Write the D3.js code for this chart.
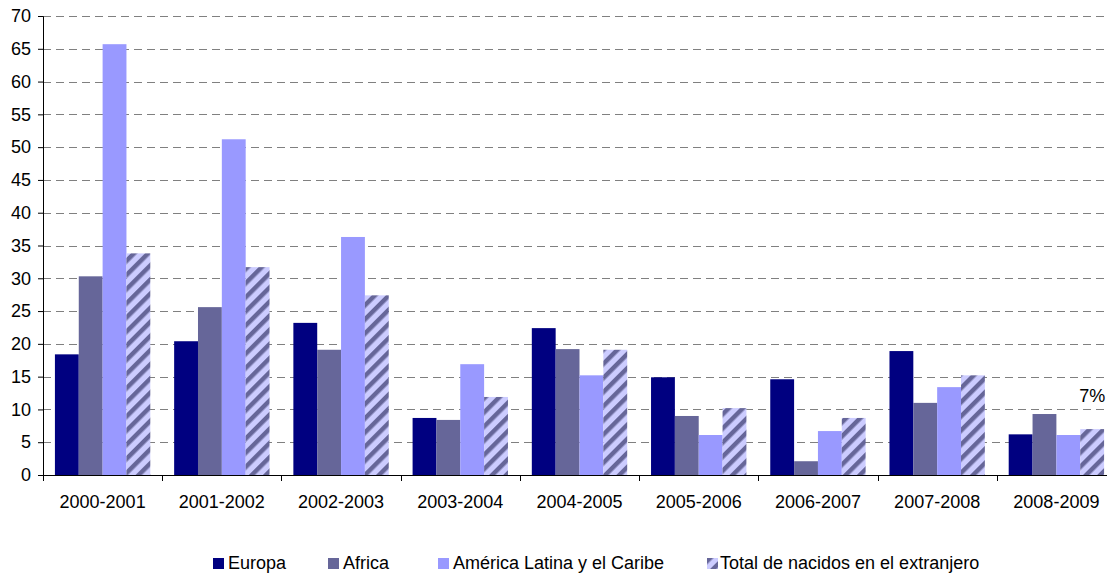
<!DOCTYPE html>
<html>
<head>
<meta charset="utf-8">
<script src="https://cdn.jsdelivr.net/npm/d3@7"></script>
<style>
  body { margin: 0; background: #fff; }
  svg { font-family: "Liberation Sans", Arial, sans-serif; }
</style>
</head>
<body>
<div id="wrapper"></div>
<script>
const periods = ["2000-2001", "2001-2002", "2002-2003", "2003-2004", "2004-2005",
    "2005-2006", "2006-2007", "2007-2008", "2008-2009"]
const seriesNames = ["Europa", "Africa", "América Latina y el Caribe", "Total de nacidos en el extranjero"]

const europa = [18.4, 20.4, 23.2, 8.7, 22.4, 14.9, 14.6, 18.9, 6.2]
const africa = [30.3, 25.6, 19.1, 8.4, 19.2, 9.0, 2.1, 11.0, 9.3]
const americaLatina = [65.7, 51.2, 36.3, 16.9, 15.2, 6.1, 6.7, 13.4, 6.1]
const totalExtranjero = [33.8, 31.7, 27.4, 11.9, 19.1, 10.2, 8.7, 15.2, 7.0]

const yTicks = d3.range(0, 71, 5)
const lastLabel = "7%"

const seriesValues = [europa, africa, americaLatina, totalExtranjero]
const colors = ["#000080", "#666699", "#9999ff", "url(#hatch)"]

let dimensions = {
    width: 1107,
    height: 576,
    margin: { top: 16, left: 43 },
    boundedWidth: 1073,
    boundedHeight: 459,
}

const svg = d3.select("#wrapper")
    .append("svg")
    .attr("width", dimensions.width)
    .attr("height", dimensions.height)

const pattern = svg.append("defs")
    .append("pattern")
    .attr("id", "hatch")
    .attr("patternUnits", "userSpaceOnUse")
    .attr("width", 10)
    .attr("height", 10)
    .attr("patternTransform", "rotate(45)")
pattern.append("rect").attr("width", 10).attr("height", 10).attr("fill", "#ccccff")
pattern.append("rect").attr("x", 0).attr("width", 4.5).attr("height", 10).attr("fill", "#666699")

const bounds = svg.append("g")
    .attr("transform", `translate(${dimensions.margin.left},${dimensions.margin.top})`)

const xScale = d3.scaleBand()
    .domain(periods)
    .range([0, dimensions.boundedWidth])
    .paddingInner(0.2)
    .paddingOuter(0.1)

const xSub = d3.scaleBand()
    .domain(d3.range(seriesNames.length))
    .range([0, xScale.bandwidth()])

const yScale = d3.scaleLinear()
    .domain([0, 70])
    .range([dimensions.boundedHeight, 0])

// grid lines
bounds.append("g")
    .selectAll("line")
    .data(yTicks.filter(d => d > 0))
    .join("line")
    .attr("x1", 0)
    .attr("x2", dimensions.boundedWidth)
    .attr("y1", d => Math.round(yScale(d)) + 0.5)
    .attr("y2", d => Math.round(yScale(d)) + 0.5)
    .attr("stroke", "#808080")
    .attr("stroke-dasharray", "8,5")

// bars
const groups = bounds.append("g")
    .selectAll("g")
    .data(seriesValues)
    .join("g")
    .attr("fill", (d, i) => colors[i])

groups.selectAll("rect")
    .data((d, i) => d.map((v, j) => ({ v, period: periods[j], s: i })))
    .join("rect")
    .attr("x", d => xScale(d.period) + xSub(d.s))
    .attr("width", xSub.bandwidth())
    .attr("y", d => yScale(d.v))
    .attr("height", d => yScale(0) - yScale(d.v))

// y axis
const yAxis = bounds.append("g")
    .call(d3.axisLeft(yScale).tickValues(yTicks).tickSize(5).tickPadding(7))
yAxis.select(".domain").attr("stroke", "#000")
yAxis.selectAll("text").attr("font-size", 18).attr("fill", "#000")
    .style("font-family", "Liberation Sans, Arial, sans-serif")

// x axis with ticks between categories
const xAxis = bounds.append("g")
    .attr("transform", `translate(0,${dimensions.boundedHeight})`)
    .call(d3.axisBottom(xScale).tickSize(0).tickPadding(20))
xAxis.select(".domain").attr("stroke", "#000")
xAxis.selectAll("text").attr("font-size", 18).attr("fill", "#000")
    .style("font-family", "Liberation Sans, Arial, sans-serif")

const step = xScale.step()
xAxis.selectAll(".sep")
    .data(d3.range(periods.length + 1))
    .join("line")
    .attr("class", "sep")
    .attr("x1", d => Math.round(xScale(periods[0]) - xScale.paddingOuter() * step + d * step) + 0.5)
    .attr("x2", d => Math.round(xScale(periods[0]) - xScale.paddingOuter() * step + d * step) + 0.5)
    .attr("y1", 0)
    .attr("y2", 6)
    .attr("stroke", "#000")

// label on last total bar
bounds.append("text")
    .attr("x", xScale(periods[8]) + xSub(3) + xSub.bandwidth() / 2)
    .attr("y", yScale(totalExtranjero[8]) - 27)
    .attr("text-anchor", "middle")
    .attr("font-size", 18)
    .text(lastLabel)

// legend
const legendX = [213, 328, 438, 707]
const legend = svg.append("g")
    .selectAll("g")
    .data(seriesNames)
    .join("g")
    .attr("transform", (d, i) => `translate(${legendX[i]},558)`)

legend.append("rect")
    .attr("width", 11)
    .attr("height", 11)
    .attr("fill", (d, i) => colors[i])

legend.append("text")
    .attr("x", (d, i) => i === 3 ? 13 : 15)
    .attr("y", 11)
    .attr("font-size", 18)
    .text(d => d)
</script>
</body>
</html>
